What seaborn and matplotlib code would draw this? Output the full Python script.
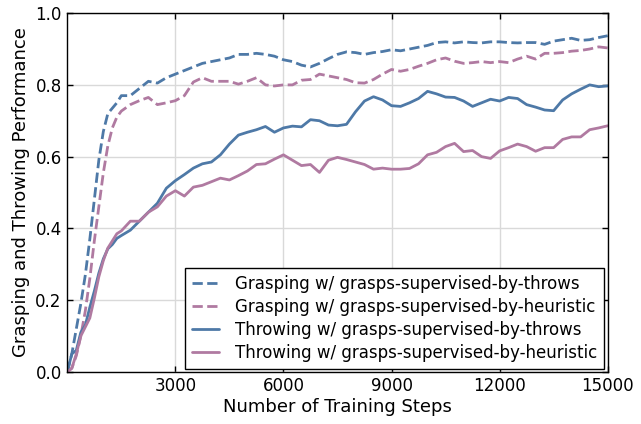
import numpy as np
import pandas as pd
import matplotlib
matplotlib.use("Agg")
import matplotlib.pyplot as plt
import seaborn as sns

# Pasos de entrenamiento (mas densos al inicio, donde la subida es rapida)
steps = [0, 125, 250, 375, 500, 625, 750, 875, 1000, 1125, 1250, 1375, 1500,
         1750, 2000, 2250, 2500, 2750, 3000,
         3250, 3500, 3750, 4000, 4250, 4500, 4750, 5000, 5250, 5500, 5750, 6000,
         6250, 6500, 6750, 7000, 7250, 7500, 7750, 8000, 8250, 8500, 8750, 9000,
         9250, 9500, 9750, 10000, 10250, 10500, 10750, 11000, 11250, 11500, 11750, 12000,
         12250, 12500, 12750, 13000, 13250, 13500, 13750, 14000, 14250, 14500, 14750, 15000]

grasp_throws = [0.0, 0.05, 0.12, 0.19, 0.27, 0.37, 0.48, 0.59, 0.67, 0.72, 0.735, 0.75, 0.77,
                0.77, 0.79, 0.81, 0.805, 0.82, 0.83,
                0.84, 0.85, 0.86, 0.865, 0.87, 0.875, 0.885, 0.885, 0.888, 0.885, 0.88, 0.87,
                0.865, 0.855, 0.85, 0.86, 0.873, 0.885, 0.892, 0.89, 0.885, 0.89, 0.893, 0.898,
                0.895, 0.9, 0.905, 0.91, 0.918, 0.92, 0.917, 0.92, 0.918, 0.917, 0.92, 0.92,
                0.918, 0.917, 0.918, 0.918, 0.913, 0.922, 0.926, 0.93, 0.924, 0.926, 0.932, 0.937]

grasp_heuristic = [0.0, 0.01, 0.045, 0.10, 0.17, 0.26, 0.365, 0.46, 0.555, 0.63, 0.68, 0.71, 0.727,
                   0.745, 0.756, 0.765, 0.745, 0.75, 0.756,
                   0.77, 0.808, 0.82, 0.81, 0.81, 0.81, 0.802, 0.81, 0.82, 0.80, 0.797, 0.80,
                   0.80, 0.813, 0.815, 0.83, 0.825, 0.82, 0.815, 0.806, 0.805, 0.815, 0.83, 0.843,
                   0.838, 0.843, 0.852, 0.86, 0.87, 0.875, 0.866, 0.86, 0.862, 0.865, 0.862, 0.865,
                   0.862, 0.872, 0.88, 0.872, 0.888, 0.888, 0.89, 0.894, 0.896, 0.9, 0.906, 0.903]

throw_throws = [0.0, 0.05, 0.06, 0.11, 0.13, 0.18, 0.225, 0.275, 0.315, 0.343, 0.355, 0.372, 0.38,
                0.395, 0.42, 0.445, 0.47, 0.512, 0.533,
                0.55, 0.568, 0.58, 0.585, 0.605, 0.635, 0.66, 0.668, 0.675, 0.684, 0.668, 0.68,
                0.685, 0.683, 0.703, 0.70, 0.688, 0.686, 0.69, 0.725, 0.755, 0.767, 0.758, 0.742,
                0.74, 0.75, 0.762, 0.782, 0.775, 0.766, 0.765, 0.755, 0.74, 0.75, 0.76, 0.755,
                0.765, 0.762, 0.745, 0.738, 0.73, 0.728, 0.758, 0.775, 0.788, 0.80, 0.795, 0.797]

throw_heuristic = [0.0, 0.01, 0.05, 0.10, 0.125, 0.15, 0.205, 0.265, 0.31, 0.345, 0.365, 0.385, 0.393,
                   0.42, 0.42, 0.445, 0.46, 0.49, 0.505,
                   0.49, 0.515, 0.52, 0.53, 0.54, 0.535, 0.547, 0.56, 0.578, 0.58, 0.593, 0.605,
                   0.59, 0.575, 0.578, 0.556, 0.59, 0.598, 0.592, 0.585, 0.578, 0.565, 0.568, 0.565,
                   0.565, 0.567, 0.58, 0.605, 0.612, 0.628, 0.637, 0.614, 0.617, 0.6, 0.595, 0.616,
                   0.625, 0.635, 0.628, 0.615, 0.625, 0.625, 0.648, 0.655, 0.655, 0.675, 0.68, 0.686]

labels = ['Grasping w/ grasps-supervised-by-throws',
          'Grasping w/ grasps-supervised-by-heuristic',
          'Throwing w/ grasps-supervised-by-throws',
          'Throwing w/ grasps-supervised-by-heuristic']

blue = '#4e79a7'
pink = '#b07aa1'

sns.set_style("whitegrid", {
    "axes.edgecolor": "black",
    "axes.labelcolor": "black",
    "text.color": "black",
    "xtick.color": "black",
    "ytick.color": "black",
    "grid.color": "#d9d9d9",
    "xtick.direction": "in",
    "ytick.direction": "in",
})
plt.rcParams['font.family'] = ['DejaVu Sans']

fig, ax = plt.subplots(figsize=(6.41, 4.24), dpi=100)

series = [(grasp_throws, blue, '--'),
          (grasp_heuristic, pink, '--'),
          (throw_throws, blue, '-'),
          (throw_heuristic, pink, '-')]

for (vals, color, ls), label in zip(series, labels):
    df = pd.DataFrame({'step': steps, 'value': vals})
    sns.lineplot(data=df, x='step', y='value', ax=ax, color=color,
                 linestyle=ls, linewidth=2, label=label)

ax.set_xlim(0, 15000)
ax.set_ylim(0, 1.0)
ax.set_xticks([3000, 6000, 9000, 12000, 15000])
ax.set_yticks(np.arange(0, 1.01, 0.2))
ax.set_yticklabels([f'{v:.1f}' for v in np.arange(0, 1.01, 0.2)])
ax.tick_params(direction='in', bottom=True, left=True, top=True, right=True,
               length=4, width=1, color='black', labelcolor='black',
               labelsize=12, pad=4)
for s in ax.spines.values():
    s.set_color('black')
    s.set_linewidth(1)
ax.set_xlabel('Number of Training Steps', fontsize=13, labelpad=2)
ax.set_ylabel('Grasping and Throwing Performance', fontsize=13, labelpad=4)
ax.grid(True, linewidth=1, color='#d9d9d9')

leg = ax.legend(loc='lower right', fontsize=12, frameon=True, fancybox=False,
                framealpha=1, edgecolor='black', borderpad=0.4, labelspacing=0.3,
                handlelength=1.6, handletextpad=1.0, borderaxespad=0.2)
leg.get_frame().set_linewidth(1)

fig.subplots_adjust(left=0.105, right=0.948, top=0.969, bottom=0.123)
fig.savefig('out.png', dpi=100)
